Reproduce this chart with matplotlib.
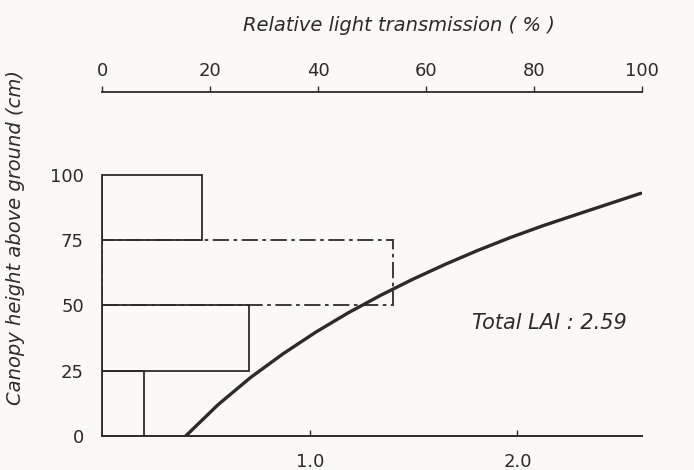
import matplotlib
matplotlib.use("Agg")
import matplotlib.pyplot as plt

plt.rcParams['font.family'] = ['DejaVu Sans']

# LAI of each 25 cm canopy layer (bottom axis)
layer_bottom = [0, 25, 50, 75]
layer_lai = [0.20, 0.71, 1.40, 0.48]
layer_style = ['-', '-', (0, (9, 2.5, 2, 2.5)), '-']

# relative light transmission profile (top axis)
light_pct = [15.5, 21.5, 27.5, 33.6, 39.6, 45.6, 51.6, 57.6, 63.7, 69.7, 75.7, 81.7, 87.8, 93.8, 99.8]
light_height = [0, 12.0, 22.4, 31.6, 39.8, 47.2, 53.9, 60.1, 65.9, 71.2, 76.1, 80.6, 84.8, 88.9, 93.0]

lai_ticks = [1.0, 2.0]
height_ticks = [0, 25, 50, 75, 100]
pct_ticks = [0, 20, 40, 60, 80, 100]
total_lai = 2.59

ink = '#2b2b2b'
paper = '#fbf9f5'

fig = plt.figure(figsize=(6.94, 4.70), dpi=100, facecolor=paper)
ax = fig.add_axes([102 / 694, 1 - 436 / 470, 540 / 694, 344 / 470])
ax.set_facecolor('none')

for b, w, ls in zip(layer_bottom, layer_lai, layer_style):
    ax.barh(b, w, height=25, align='edge', fill=False, edgecolor=ink,
            linewidth=1.3, linestyle=ls)

ax.set_xlim(0, 2.6)
ax.set_ylim(0, 131.8)
for s in ['top', 'right']:
    ax.spines[s].set_visible(False)
ax.spines['left'].set_bounds(0, 100)
ax.spines['left'].set_color(ink)
ax.spines['left'].set_linewidth(1.3)
ax.spines['bottom'].set_color(ink)
ax.spines['bottom'].set_linewidth(1.4)
ax.set_xticks(lai_ticks)
ax.set_xticklabels([f'{v:.1f}' for v in lai_ticks])
ax.set_yticks(height_ticks)
ax.tick_params(axis='x', direction='in', length=4, width=1, color=ink,
               labelsize=13, labelcolor=ink, pad=12)
ax.tick_params(axis='y', length=0, labelsize=13, labelcolor=ink, pad=13)

ax.set_ylabel('Canopy height above ground (cm)', fontsize=14, style='italic',
              color=ink, va='center')
ax.yaxis.set_label_coords(-0.161, 0.576)

ax.text(1.78, 43.3, f'Total LAI : {total_lai}', fontsize=15, style='italic',
        color=ink, va='center', ha='left')

# top axis: light transmission
ax2 = ax.twiny()
ax2.set_xlim(0, 100)
ax2.plot(light_pct, light_height, color=ink, linewidth=2.4,
         solid_capstyle='round', solid_joinstyle='round')
for s in ['bottom', 'right', 'left']:
    ax2.spines[s].set_visible(False)
ax2.spines['top'].set_color(ink)
ax2.spines['top'].set_linewidth(1.3)
ax2.set_xticks(pct_ticks)
ax2.tick_params(axis='x', direction='out', length=4, width=1, color=ink,
                labelsize=13, labelcolor=ink, pad=5)
ax2.set_xlabel('Relative light transmission ( % )', fontsize=14, style='italic',
               color=ink)
ax2.xaxis.set_label_coords(0.55, 1.178)

fig.savefig('out.png', dpi=100, facecolor=paper)
